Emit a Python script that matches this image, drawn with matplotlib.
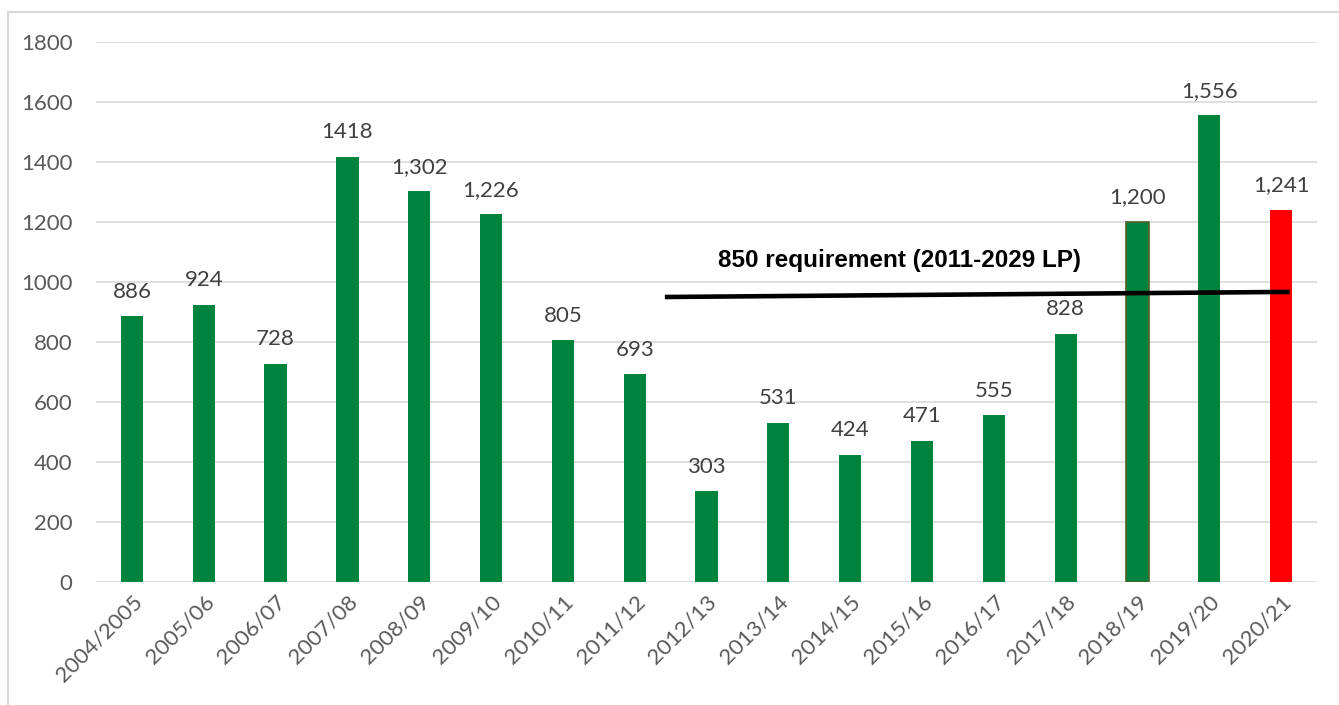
import matplotlib.pyplot as plt
from matplotlib.patches import Rectangle

years = ["2004/2005", "2005/06", "2006/07", "2007/08", "2008/09", "2009/10",
         "2010/11", "2011/12", "2012/13", "2013/14", "2014/15", "2015/16",
         "2016/17", "2017/18", "2018/19", "2019/20", "2020/21"]
completions = [886, 924, 728, 1418, 1302, 1226, 805, 693, 303, 531, 424, 471,
               555, 828, 1200, 1556, 1241]
value_labels = ["886", "924", "728", "1418", "1,302", "1,226", "805", "693",
                "303", "531", "424", "471", "555", "828", "1,200", "1,556", "1,241"]

# hand-drawn requirement line (as placed in the source chart)
req_x = [7.42, 16.12]
req_y = [950, 967]
req_label = "850 requirement (2011-2029 LP)"

GREEN = "#00843d"
RED = "#ff0000"
GRID = "#d9d9d9"
TXT = "#595959"


def main() -> None:
    plt.rcParams["font.family"] = ["Lato", "DejaVu Sans"]
    fig = plt.figure(figsize=(13.39, 7.05), dpi=100)
    ax = fig.add_axes([0.0717, 0.1745, 0.9119, 0.7659])

    colors = [GREEN] * len(years)
    colors[-1] = RED
    x = list(range(len(years)))
    bars = ax.bar(x, completions, width=0.31, color=colors, zorder=2)
    bars[14].set_edgecolor("#4f6228")
    bars[14].set_linewidth(1.2)

    for xi, v, lab in zip(x, completions, value_labels):
        ax.annotate(lab, (xi, v), xytext=(0, 10.5), textcoords="offset points",
                    ha="center", va="bottom", fontsize=16, color="#404040")

    ax.plot(req_x, req_y, color="black", lw=3.3, solid_capstyle="butt", zorder=4)
    ax.text(10.68, 1073, req_label, ha="center", va="center", fontsize=17.5,
            fontweight="bold", family=["Liberation Sans"], color="black",
            bbox=dict(facecolor="white", edgecolor="none", pad=4), zorder=3)

    ax.set_xlim(-0.5, len(years) - 0.5)
    ax.set_ylim(0, 1800)
    ax.set_yticks(range(0, 1801, 200))
    ax.set_xticks(x)
    ax.set_xticklabels(years, rotation=45, ha="right", rotation_mode="anchor")
    ax.tick_params(axis="both", length=0, labelsize=16, labelcolor=TXT)
    ax.tick_params(axis="y", pad=17)
    ax.tick_params(axis="x", pad=7)
    ax.grid(axis="y", color=GRID, lw=1.2, zorder=0)
    for s in ax.spines.values():
        s.set_visible(False)

    fig.add_artist(Rectangle((8 / 1339, -0.1), 1.2, 1 - 12 / 705 + 0.1,
                             transform=fig.transFigure, fill=False,
                             edgecolor=GRID, lw=1.5))

    fig.savefig("out.png", dpi=100)


if __name__ == "__main__":
    main()
